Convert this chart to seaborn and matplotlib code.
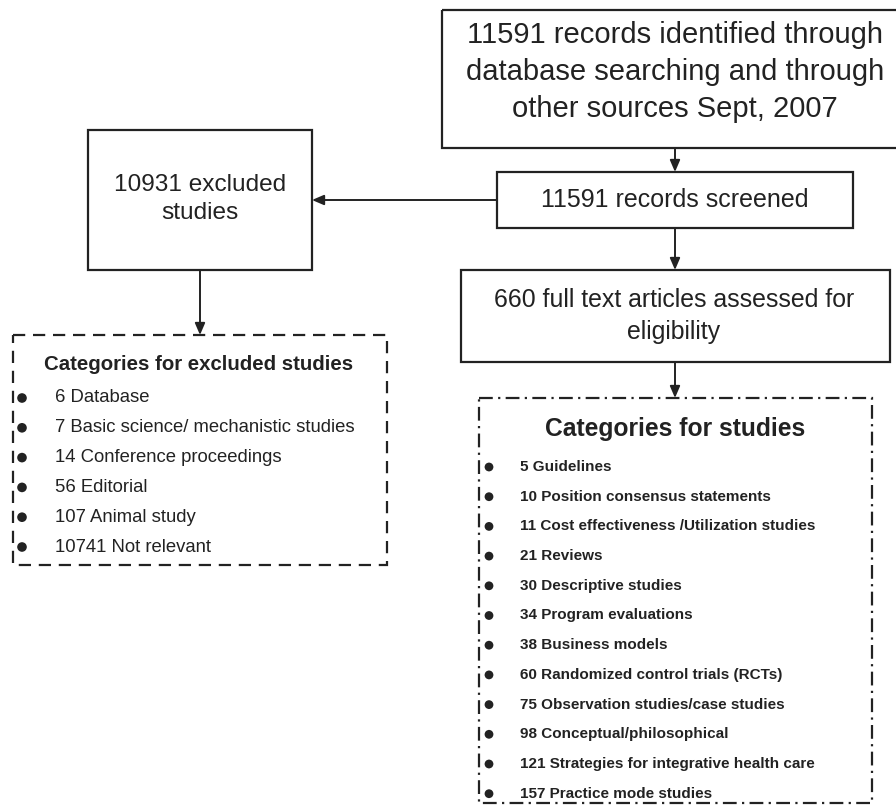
import matplotlib
matplotlib.use("Agg")
import matplotlib.pyplot as plt
from matplotlib.patches import Rectangle
import seaborn as sns
import pandas as pd

# flowchart texts
top_lines = ["11591 records identified through",
             "database searching and through",
             "other sources Sept, 2007"]
screened_text = "11591 records screened"
excluded_lines = ["10931 excluded", "studies"]
fulltext_lines = ["660 full text articles assessed for", "eligibility"]

# excluded categories
excl_title = "Categories for excluded studies"
excl_counts = [6, 7, 14, 56, 107, 10741]
excl_names = ["Database", "Basic science/ mechanistic studies",
              "Conference proceedings", "Editorial", "Animal study",
              "Not relevant"]

# included categories
incl_title = "Categories for studies"
incl_counts = [5, 10, 11, 21, 30, 34, 38, 60, 75, 98, 121, 157]
incl_names = ["Guidelines", "Position consensus statements",
              "Cost effectiveness /Utilization studies", "Reviews",
              "Descriptive studies", "Program evaluations", "Business models",
              "Randomized control trials (RCTs)",
              "Observation studies/case studies", "Conceptual/philosophical",
              "Strategies for integrative health care", "Practice mode studies"]

sns.set_style("white")
plt.rcParams['font.family'] = ['Liberation Sans', 'DejaVu Sans']
ink = "#222222"

fig = plt.figure(figsize=(8.96, 8.07), dpi=100)
ax = fig.add_axes([0, 0, 1, 1])
ax.set_xlim(0, 896)
ax.set_ylim(807, 0)
ax.axis("off")

def box(x0, y0, x1, y1, ls="-"):
    ax.add_patch(Rectangle((x0, y0), x1 - x0, y1 - y0, fill=False,
                           edgecolor=ink, lw=1.6, linestyle=ls))

def arrow(x0, y0, x1, y1):
    ax.annotate("", xy=(x1, y1), xytext=(x0, y0),
                arrowprops=dict(arrowstyle="-|>,head_length=0.7,head_width=0.3",
                                color=ink, lw=1.4, shrinkA=0, shrinkB=0))

# solid boxes
box(442, 10, 899, 148)
box(497, 172, 853, 228)
box(88, 130, 312, 270)
box(461, 270, 890, 362)

# dashed boxes
box(13, 335, 387, 565, ls=(0, (5.5, 3.5)))
box(479, 398, 872, 803, ls=(0, (6.2, 2.4, 1.0, 2.4)))

# arrows
arrow(675, 148, 675, 172)
arrow(675, 228, 675, 270)
arrow(497, 200, 312, 200)
arrow(200, 270, 200, 335)
arrow(675, 362, 675, 398)

for i, line in enumerate(top_lines):
    ax.text(675, 35 + i * 37, line, ha="center", va="center",
            fontsize=21, color=ink)
ax.text(675, 200, screened_text, ha="center", va="center",
        fontsize=18, color=ink)
for i, line in enumerate(excluded_lines):
    ax.text(200, 185 + i * 28, line, ha="center", va="center",
            fontsize=17.6, color=ink)
for i, line in enumerate(fulltext_lines):
    ax.text(674, 300 + i * 32, line, ha="center", va="center",
            fontsize=17.9, color=ink)

# excluded list
ax.text(199, 364, excl_title, ha="center", va="center",
        fontsize=14.7, fontweight="bold", color=ink)
excl = pd.DataFrame({"label": [f"{c} {n}" for c, n in zip(excl_counts, excl_names)]})
excl["y"] = 398 + excl.index * 29.8
excl["x"] = 22
sns.scatterplot(data=excl, x="x", y="y", ax=ax, color=ink, s=48,
                edgecolor="none", legend=False)
for _, r in excl.iterrows():
    ax.text(55, r["y"], r["label"], ha="left", va="center",
            fontsize=13.3, color=ink)

# included list
ax.text(675, 429, incl_title, ha="center", va="center",
        fontsize=17.7, fontweight="bold", color=ink)
incl = pd.DataFrame({"label": [f"{c} {n}" for c, n in zip(incl_counts, incl_names)]})
incl["y"] = 467 + incl.index * 29.7
incl["x"] = 489
sns.scatterplot(data=incl, x="x", y="y", ax=ax, color=ink, s=40,
                edgecolor="none", legend=False)
for _, r in incl.iterrows():
    ax.text(520, r["y"], r["label"], ha="left", va="center",
            fontsize=11, fontweight="bold", color=ink)

ax.set_xlim(0, 896)
ax.set_ylim(807, 0)
ax.axis("off")
fig.savefig("out.png", dpi=100)
